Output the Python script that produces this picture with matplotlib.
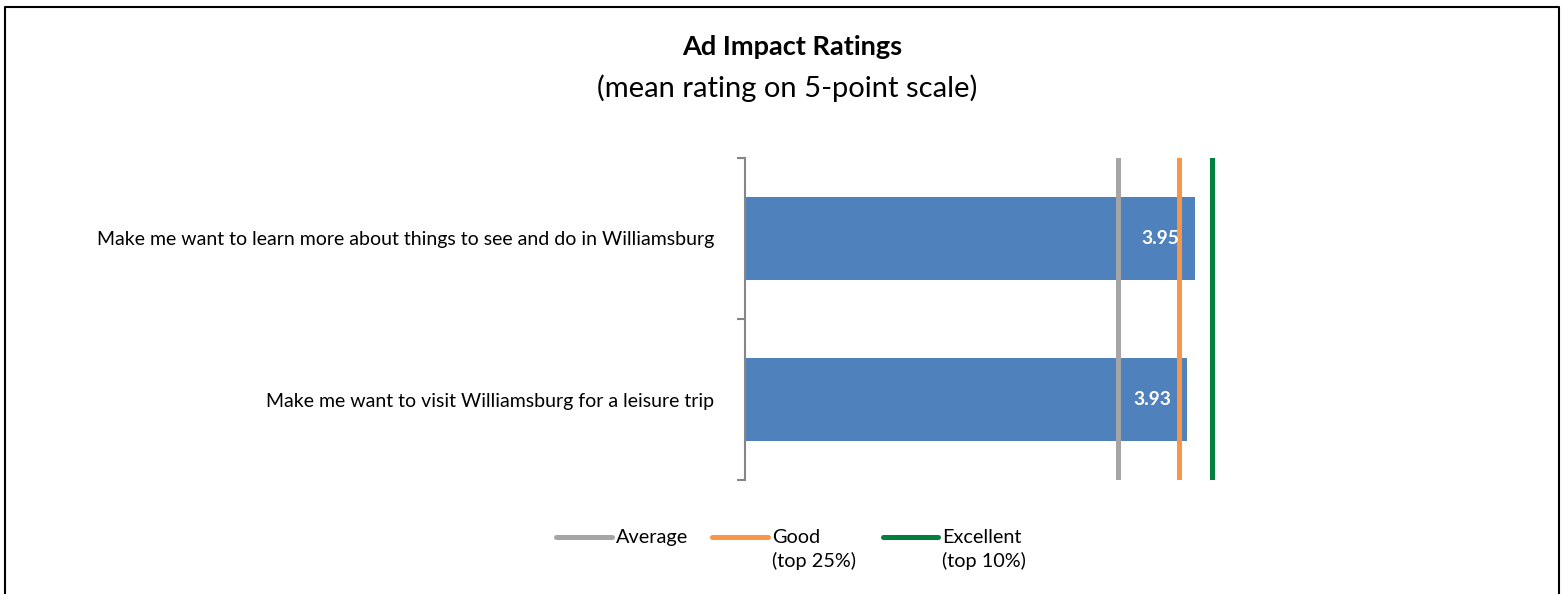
import matplotlib
matplotlib.use("Agg")
import matplotlib.pyplot as plt
from matplotlib.lines import Line2D

plt.rcParams['font.family'] = ['Lato', 'DejaVu Sans']

# ---- data ----
categories = ["Make me want to learn more about things to see and do in Williamsburg",
              "Make me want to visit Williamsburg for a leisure trip"]
values = [3.95, 3.93]
value_labels = ["3.95", "3.93"]
benchmark_names = ["Average", "Good\n(top 25%)", "Excellent\n(top 10%)"]
benchmark_values = [3.76, 3.91, 3.99]
benchmark_colors = ["#A5A5A5", "#F79646", "#00803C"]
title = "Ad Impact Ratings"
subtitle = "(mean rating on 5-point scale)"

W, H = 1565, 594
fig = plt.figure(figsize=(W / 100, H / 100), dpi=100)

def fx(px):
    return px / W

def fy(py):
    return 1 - py / H

ax = fig.add_axes([fx(745), fy(480), fx(1400) - fx(745), fy(158) - fy(480)])

ypos = list(range(len(categories)))
ax.barh(ypos, values, height=0.51, color="#4F81BD", left=0, zorder=2)
ax.set_xlim(2.85, 4.45)
ax.set_ylim(len(categories) - 0.5, -0.5)

for yv, v, lab in zip(ypos, values, value_labels):
    ax.text(v - 0.039, yv, lab, ha="right", va="center", color="white",
            fontsize=13.8, fontweight="bold", zorder=4)

for bv, bc in zip(benchmark_values, benchmark_colors):
    ax.axvline(bv, color=bc, lw=3.6, zorder=3)

ax.set_yticks(ypos)
ax.set_yticklabels(categories, fontsize=14)
ax.set_yticks([i - 0.5 for i in range(len(categories) + 1)], minor=True)
ax.tick_params(axis="y", which="major", length=0, pad=22)
ax.tick_params(axis="y", which="minor", length=6, width=1.5, color="#868686", direction="out")
ax.set_xticks([])
for s in ["top", "right", "bottom"]:
    ax.spines[s].set_visible(False)
ax.spines["left"].set_color("#868686")
ax.spines["left"].set_linewidth(1.5)

# titles
fig.text(fx(792), fy(55), title, ha="center", va="baseline", fontsize=19.5, fontweight="bold")
fig.text(fx(787), fy(97), subtitle, ha="center", va="baseline", fontsize=21)

# legend (manual)
leg_x = [(556, 612, 616), (712, 768, 772), (883, 938, 942)]
for (x0, x1, tx), name, col in zip(leg_x, benchmark_names, benchmark_colors):
    fig.add_artist(Line2D([fx(x0), fx(x1)], [fy(537), fy(537)], color=col, lw=3.6,
                          solid_capstyle="round", transform=fig.transFigure))
    lines = name.split("\n")
    for i, ln in enumerate(lines):
        fig.text(fx(tx), fy(543 + 24 * i), ln, ha="left", va="baseline", fontsize=14.3)

# border
fig.add_artist(Line2D([fx(5), fx(5), fx(1559), fx(1559)], [0, fy(7), fy(7), 0],
                      color="black", lw=1.5, transform=fig.transFigure))

fig.savefig("out.png", dpi=100)
